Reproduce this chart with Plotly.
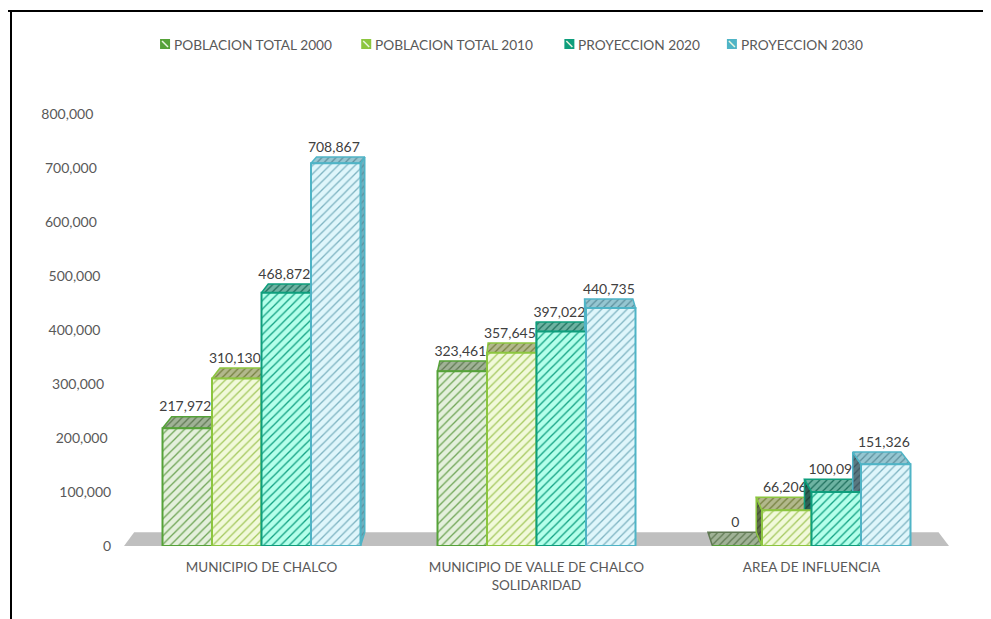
import plotly.graph_objects as go

categories = ["MUNICIPIO DE CHALCO", "MUNICIPIO DE VALLE DE CHALCO<br>SOLIDARIDAD", "AREA DE INFLUENCIA"]
series_names = ["POBLACION TOTAL 2000", "POBLACION TOTAL 2010", "PROYECCION 2020", "PROYECCION 2030"]
poblacion_2000 = [217972, 323461, 0]
poblacion_2010 = [310130, 357645, 66206]
proyeccion_2020 = [468872, 397022, 100093]
proyeccion_2030 = [708867, 440735, 151326]
y_ticks = [0, 100000, 200000, 300000, 400000, 500000, 600000, 700000, 800000]
tick_pad = [0, 0, 1, 2, 3, 3, 4, 4, 5]

series_values = [poblacion_2000, poblacion_2010, proyeccion_2020, proyeccion_2030]
line_colors = ["#55A238", "#8CC63F", "#0E9E7C", "#4FB4C6"]
face_bg = ["#E4F0DC", "#F1F9DA", "#B4FFEA", "#DFF6FB"]
face_fg = ["#6FA556", "#A5C95F", "#12A283", "#7FB4C2"]
top_bg = ["#A0B296", "#B2B88C", "#6DB3A2", "#95C6D1"]
top_fg = ["#5F7852", "#75803F", "#1E6E5C", "#5D8F9C"]
side_right_bg = ["#A0B296", "#B2B88C", "#6DB3A2", "#6FB0BF"]
side_left_bg = ["#5C6E54", "#5F6E48", "#2F6257", "#5A7880"]
side_left_fg = ["#3F4E38", "#434F30", "#1C4238", "#3C5660"]
legend_x = [0.1615, 0.3645, 0.5695, 0.7335]
legend_text_x = [0.1755, 0.3785, 0.5835, 0.7475]

BAR_W = 0.18
KX, VX = 0.025, 0.978
KY, VY = 0.02, 1280000
LABEL_GAP = 3500
LABEL_SHIFT = -0.007
TEXT = "#595959"
FONT = "Lato"


def back(x, y):
    return x + KX * (VX - x), y + KY * (VY - y)


def face(points, bg, fg, line, name):
    xs = [p[0] for p in points] + [points[0][0]]
    ys = [p[1] for p in points] + [points[0][1]]
    return go.Scatter(
        x=xs, y=ys, mode="lines", fill="toself", hoverinfo="skip", showlegend=False, name=name,
        line=dict(color=line, width=1.5),
        fillcolor=bg,
        fillpattern=dict(shape="/", size=5, solidity=0.25, fgcolor=fg, bgcolor=bg, fillmode="replace"),
    )


fig = go.Figure()

# floor of the 3D plot
fx0, fx1 = -0.5, 2.5
floor = [(fx0, 0), (fx1, 0), back(fx1, 0), back(fx0, 0)]
fig.add_trace(go.Scatter(
    x=[p[0] for p in floor] + [fx0], y=[p[1] for p in floor] + [0],
    mode="lines", fill="toself", fillcolor="#BFBFBF", line=dict(width=0),
    hoverinfo="skip", showlegend=False, name="floor",
))

# side and top faces with the data labels, behind the front faces
for g in range(len(categories)):
    for s, values in enumerate(series_values):
        v = values[g]
        x0 = g + (s - 2) * BAR_W
        x1 = x0 + BAR_W
        if v > 0 and x1 < VX:
            fig.add_trace(face([(x1, 0), (x1, v), back(x1, v), back(x1, 0)],
                               side_right_bg[s], top_fg[s], line_colors[s], series_names[s] + " side"))
        elif v > 0 and x0 > VX:
            fig.add_trace(face([(x0, 0), (x0, v), back(x0, v), back(x0, 0)],
                               side_left_bg[s], side_left_fg[s], line_colors[s], series_names[s] + " side"))
        fig.add_trace(face([(x0, v), (x1, v), back(x1, v), back(x0, v)],
                           top_bg[s], top_fg[s], top_fg[s] if v == 0 else line_colors[s], series_names[s] + " top"))
        _, ly = back(x0, v)
        fig.add_trace(go.Scatter(
            x=[(x0 + x1) / 2 + LABEL_SHIFT], y=[ly + LABEL_GAP], mode="text", text=[f"{v:,}"], textposition="top center",
            textfont=dict(family=FONT, size=14, color="#404040"),
            cliponaxis=False, hoverinfo="skip", showlegend=False,
        ))

# front faces on an overlaying pair of axes so that they sit on top
for s, values in enumerate(series_values):
    fig.add_trace(go.Bar(
        x=[g + (s - 1.5) * BAR_W for g in range(len(categories))],
        y=values, width=BAR_W, name=series_names[s], xaxis="x2", yaxis="y2",
        marker=dict(
            color=face_bg[s],
            line=dict(color=line_colors[s], width=2),
            pattern=dict(shape="/", size=6, solidity=0.22, fgcolor=face_fg[s], bgcolor=face_bg[s], fillmode="replace"),
        ),
    ))

# legend keys and texts
shapes = [
    dict(type="line", xref="paper", yref="paper", x0=-124 / 825, x1=867 / 825, y0=1 + 97 / 438, y1=1 + 97 / 438,
         line=dict(color="#000000", width=2)),
    dict(type="line", xref="paper", yref="paper", x0=-113 / 825, x1=-113 / 825, y0=1 + 97 / 438, y1=-73 / 438,
         line=dict(color="#000000", width=2)),
]
annotations = []
PAPER_W = 991
for s, name in enumerate(series_names):
    lx = legend_x[s] * PAPER_W
    tx = legend_text_x[s] * PAPER_W
    shapes.append(dict(type="rect", xref="paper", yref="paper",
                       x0=(lx - 124) / 825, x1=(lx + 10 - 124) / 825,
                       y0=1 + (108 - 49) / 438, y1=1 + (108 - 39) / 438,
                       fillcolor=line_colors[s], line=dict(width=0), layer="above"))
    shapes.append(dict(type="line", xref="paper", yref="paper",
                       x0=(lx + 2 - 124) / 825, x1=(lx + 8 - 124) / 825,
                       y0=1 + (108 - 41) / 438, y1=1 + (108 - 47) / 438,
                       line=dict(color="#E8F5E0", width=1.5), layer="above"))
    annotations.append(dict(xref="paper", yref="paper", x=(tx - 124) / 825, y=1 + (108 - 44) / 438,
                            text=name, showarrow=False, xanchor="left", yanchor="middle", xshift=-2,
                            font=dict(family=FONT, size=13.7, color=TEXT)))

tick_text = [f"{t:,}" + "\u00a0" * n for t, n in zip(y_ticks, tick_pad)]
x_axis = dict(range=[-0.5, 2.5], tickvals=[0, 1, 2], ticktext=categories, showgrid=False, zeroline=False,
              showline=False, ticks="outside", ticklen=9, tickcolor="rgba(0,0,0,0)",
              tickfont=dict(family=FONT, size=13.5, color=TEXT), fixedrange=True)
y_range = [0, 438 / 0.54 * 1000]
fig.update_layout(
    width=983, height=611, margin=dict(l=116, r=42, t=100, b=73), autosize=False,
    paper_bgcolor="#FFFFFF", plot_bgcolor="rgba(0,0,0,0)", showlegend=False,
    barmode="overlay", shapes=shapes, annotations=annotations,
    xaxis=x_axis,
    yaxis=dict(range=y_range, tickvals=y_ticks, ticktext=tick_text, showgrid=False, zeroline=False,
               showline=False, ticks="outside", ticklen=9, tickcolor="rgba(0,0,0,0)",
               tickfont=dict(family=FONT, size=14, color=TEXT), fixedrange=True),
    xaxis2=dict(range=[-0.5, 2.5], overlaying="x", visible=False, fixedrange=True),
    yaxis2=dict(range=y_range, overlaying="y", visible=False, fixedrange=True),
)

fig.write_html("out.html")
